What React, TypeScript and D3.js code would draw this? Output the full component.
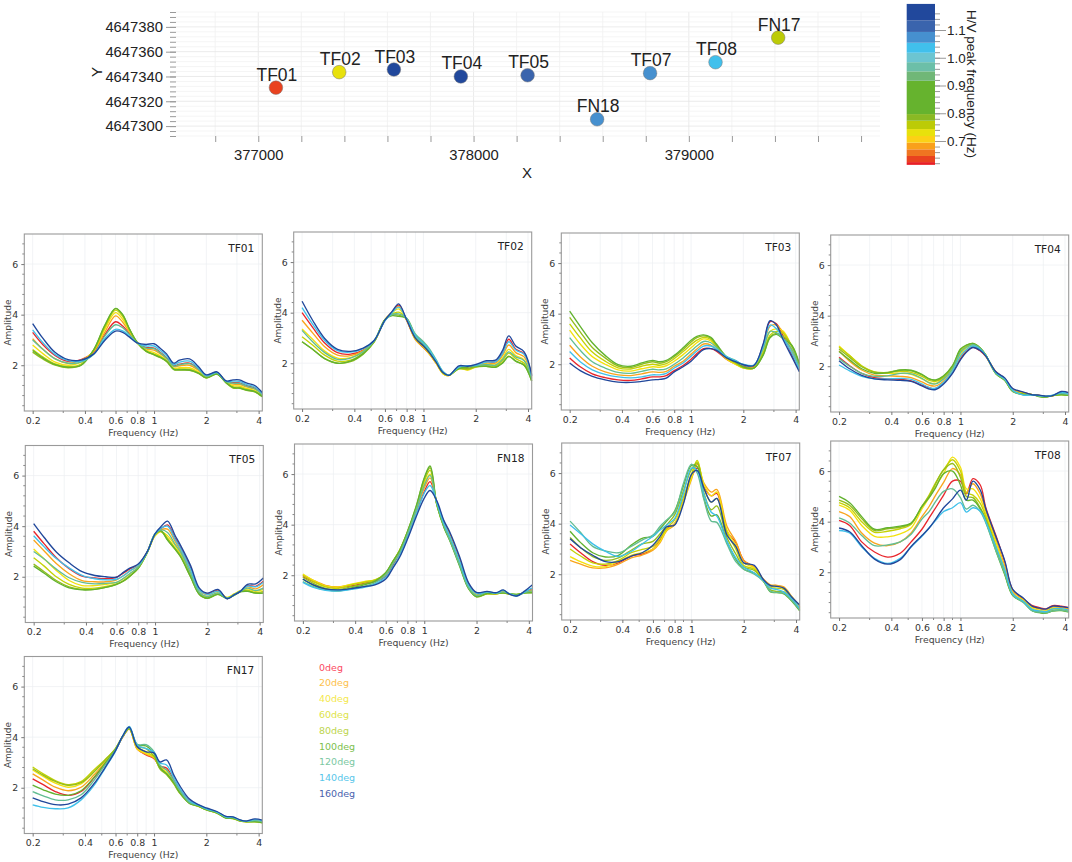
import * as d3 from "d3";
import { useEffect, useRef } from "react";

const FONT = "'DejaVu Sans', sans-serif";
const MAP_FONT = "'Liberation Sans', Arial, sans-serif";

// frequency samples shared by every H/V curve (Hz)
const freqs = [0.2, 0.23, 0.27, 0.32, 0.38, 0.45, 0.52, 0.6, 0.66, 0.72, 0.8, 0.9, 1, 1.08, 1.18, 1.3, 1.4, 1.6, 1.8, 2, 2.3, 2.6, 2.85, 3.1, 3.4, 3.8, 4.2];

const azimuths = ["0deg", "20deg", "40deg", "60deg", "80deg", "100deg", "120deg", "140deg", "160deg"];
const lineColors = ["#e8262c", "#f9a51c", "#f3e10e", "#c4d205", "#94bd1c", "#62b22f", "#63bd92", "#3fc0ea", "#20479b"];
const legendColors = ["#fb4a62", "#fdc14c", "#f4e84c", "#dde34a", "#bdd54e", "#7dc04e", "#7cc8a2", "#58c6ea", "#4a62ad"];

// one row per azimuth, same order as azimuths
const tf01 = [
  [3.3, 2.8, 2.38, 2.15, 2.22, 2.52, 3.2, 3.72, 3.55, 3.25, 2.88, 2.7, 2.68, 2.52, 2.3, 1.98, 2.04, 2.08, 1.86, 1.58, 1.72, 1.36, 1.31, 1.3, 1.19, 1.1, 0.85],
  [3.05, 2.62, 2.25, 2.08, 2.2, 2.55, 3.3, 3.95, 3.7, 3.32, 2.88, 2.64, 2.6, 2.46, 2.26, 1.94, 1.98, 2.0, 1.8, 1.55, 1.7, 1.35, 1.25, 1.24, 1.14, 1.05, 0.82],
  [2.8, 2.45, 2.12, 2.0, 2.12, 2.58, 3.42, 4.08, 3.82, 3.38, 2.88, 2.6, 2.5, 2.38, 2.2, 1.88, 1.9, 1.9, 1.74, 1.52, 1.68, 1.33, 1.19, 1.18, 1.08, 1.0, 0.79],
  [2.62, 2.32, 2.05, 1.94, 2.05, 2.6, 3.5, 4.18, 3.92, 3.42, 2.9, 2.56, 2.44, 2.34, 2.17, 1.85, 1.85, 1.84, 1.7, 1.5, 1.66, 1.32, 1.14, 1.13, 1.04, 0.97, 0.77],
  [2.52, 2.24, 2.0, 1.9, 2.0, 2.62, 3.55, 4.24, 3.98, 3.44, 2.9, 2.55, 2.41, 2.31, 2.15, 1.83, 1.81, 1.8, 1.68, 1.5, 1.65, 1.3, 1.1, 1.09, 1.01, 0.95, 0.75],
  [2.58, 2.28, 2.02, 1.92, 2.0, 2.62, 3.58, 4.25, 4.0, 3.45, 2.9, 2.56, 2.42, 2.32, 2.16, 1.84, 1.82, 1.81, 1.69, 1.5, 1.65, 1.31, 1.12, 1.1, 1.02, 0.96, 0.76],
  [3.0, 2.62, 2.25, 2.08, 2.12, 2.44, 3.15, 3.6, 3.48, 3.22, 2.88, 2.68, 2.66, 2.5, 2.28, 1.96, 2.02, 2.06, 1.84, 1.56, 1.7, 1.35, 1.29, 1.28, 1.17, 1.07, 0.83],
  [3.4, 2.88, 2.42, 2.18, 2.16, 2.44, 3.05, 3.42, 3.36, 3.16, 2.88, 2.76, 2.76, 2.6, 2.38, 2.03, 2.12, 2.16, 1.9, 1.6, 1.72, 1.37, 1.37, 1.36, 1.24, 1.14, 0.88],
  [3.65, 3.05, 2.5, 2.22, 2.2, 2.45, 2.98, 3.35, 3.3, 3.12, 2.88, 2.82, 2.85, 2.68, 2.45, 2.08, 2.2, 2.25, 1.95, 1.62, 1.74, 1.38, 1.42, 1.42, 1.3, 1.2, 0.92],
];

const tf02 = [
  [4.0, 3.42, 2.8, 2.42, 2.36, 2.52, 2.88, 3.7, 4.02, 4.3, 3.7, 2.95, 2.62, 2.38, 2.02, 1.6, 1.52, 1.84, 1.78, 1.9, 2.05, 2.05, 2.4, 2.95, 2.55, 2.38, 1.5],
  [3.7, 3.2, 2.65, 2.32, 2.3, 2.5, 2.88, 3.72, 4.02, 4.25, 3.7, 2.92, 2.62, 2.36, 2.0, 1.58, 1.51, 1.82, 1.75, 1.88, 2.0, 2.0, 2.3, 2.72, 2.42, 2.25, 1.45],
  [3.35, 2.95, 2.48, 2.2, 2.22, 2.46, 2.86, 3.72, 4.0, 4.15, 3.72, 2.95, 2.65, 2.38, 2.02, 1.58, 1.51, 1.8, 1.73, 1.86, 1.96, 1.94, 2.2, 2.55, 2.3, 2.13, 1.4],
  [3.05, 2.72, 2.32, 2.08, 2.12, 2.4, 2.84, 3.72, 3.95, 4.02, 3.74, 3.0, 2.7, 2.43, 2.05, 1.6, 1.52, 1.78, 1.75, 1.85, 1.92, 1.88, 2.1, 2.4, 2.18, 2.0, 1.35],
  [2.85, 2.55, 2.18, 2.0, 2.06, 2.36, 2.84, 3.72, 3.9, 3.9, 3.76, 3.05, 2.75, 2.47, 2.08, 1.62, 1.53, 1.78, 1.78, 1.86, 1.88, 1.84, 2.02, 2.28, 2.08, 1.92, 1.3],
  [2.85, 2.55, 2.18, 2.0, 2.08, 2.38, 2.86, 3.72, 3.88, 3.85, 3.78, 3.1, 2.8, 2.5, 2.1, 1.63, 1.53, 1.8, 1.84, 1.88, 1.88, 1.84, 2.0, 2.26, 2.08, 1.92, 1.3],
  [3.3, 2.85, 2.42, 2.15, 2.2, 2.46, 2.88, 3.7, 3.92, 3.95, 3.78, 3.15, 2.85, 2.58, 2.15, 1.66, 1.53, 1.84, 1.9, 1.9, 1.95, 1.92, 2.15, 2.45, 2.25, 2.1, 1.4],
  [4.2, 3.55, 2.9, 2.5, 2.44, 2.58, 2.9, 3.68, 4.0, 4.22, 3.75, 3.08, 2.78, 2.52, 2.12, 1.66, 1.53, 1.86, 1.9, 1.92, 2.05, 2.06, 2.38, 2.85, 2.52, 2.35, 1.5],
  [4.45, 3.7, 2.98, 2.55, 2.47, 2.6, 2.9, 3.7, 4.05, 4.35, 3.72, 2.98, 2.68, 2.42, 2.05, 1.62, 1.52, 1.9, 1.88, 1.95, 2.1, 2.12, 2.5, 3.08, 2.68, 2.45, 1.55],
];

const tf03 = [
  [2.25, 1.9, 1.62, 1.47, 1.38, 1.36, 1.42, 1.5, 1.5, 1.55, 1.75, 1.95, 2.2, 2.42, 2.62, 2.62, 2.52, 2.2, 2.02, 1.92, 1.92, 2.75, 3.68, 3.6, 3.1, 2.38, 1.75],
  [2.75, 2.3, 1.92, 1.7, 1.58, 1.55, 1.62, 1.7, 1.68, 1.72, 1.92, 2.12, 2.4, 2.6, 2.8, 2.76, 2.58, 2.2, 2.0, 1.88, 1.88, 2.68, 3.5, 3.55, 3.25, 2.52, 1.82],
  [3.35, 2.8, 2.3, 2.0, 1.78, 1.73, 1.82, 1.9, 1.88, 1.94, 2.12, 2.38, 2.65, 2.85, 3.0, 2.92, 2.68, 2.22, 2.0, 1.85, 1.85, 2.55, 3.3, 3.4, 3.3, 2.68, 1.9],
  [3.6, 3.05, 2.48, 2.12, 1.86, 1.81, 1.92, 2.0, 1.96, 2.02, 2.22, 2.5, 2.78, 2.95, 3.06, 2.98, 2.72, 2.25, 2.04, 1.86, 1.84, 2.45, 3.15, 3.3, 3.22, 2.72, 1.95],
  [3.85, 3.28, 2.66, 2.25, 1.93, 1.87, 2.0, 2.1, 2.04, 2.1, 2.3, 2.58, 2.88, 3.05, 3.12, 3.03, 2.76, 2.28, 2.07, 1.88, 1.85, 2.38, 3.08, 3.22, 3.1, 2.75, 2.0],
  [4.1, 3.5, 2.85, 2.35, 1.98, 1.92, 2.05, 2.15, 2.1, 2.15, 2.35, 2.65, 2.95, 3.1, 3.16, 3.06, 2.8, 2.3, 2.1, 1.9, 1.85, 2.35, 3.05, 3.18, 3.0, 2.75, 2.02],
  [3.05, 2.55, 2.1, 1.85, 1.68, 1.64, 1.72, 1.8, 1.78, 1.82, 2.0, 2.25, 2.52, 2.72, 2.9, 2.85, 2.66, 2.3, 2.15, 1.97, 1.95, 2.6, 3.3, 3.25, 3.0, 2.6, 1.85],
  [2.5, 2.1, 1.78, 1.6, 1.5, 1.46, 1.5, 1.58, 1.58, 1.64, 1.85, 2.05, 2.32, 2.52, 2.72, 2.72, 2.6, 2.3, 2.14, 2.0, 1.97, 2.72, 3.55, 3.4, 3.0, 2.45, 1.78],
  [2.05, 1.75, 1.52, 1.38, 1.29, 1.28, 1.32, 1.38, 1.4, 1.45, 1.7, 1.9, 2.12, 2.35, 2.58, 2.62, 2.55, 2.25, 2.1, 1.98, 1.95, 2.8, 3.72, 3.55, 2.95, 2.3, 1.7],
];

const tf04 = [
  [2.35, 2.02, 1.72, 1.55, 1.5, 1.48, 1.42, 1.25, 1.15, 1.12, 1.35, 1.75, 2.3, 2.58, 2.75, 2.6, 2.38, 1.78, 1.52, 1.1, 0.97, 0.88, 0.85, 0.81, 0.83, 0.98, 0.95],
  [2.6, 2.2, 1.85, 1.65, 1.62, 1.6, 1.55, 1.38, 1.25, 1.22, 1.42, 1.82, 2.38, 2.65, 2.8, 2.64, 2.4, 1.77, 1.5, 1.07, 0.95, 0.87, 0.85, 0.81, 0.84, 0.94, 0.9],
  [2.8, 2.42, 2.0, 1.76, 1.72, 1.72, 1.68, 1.5, 1.36, 1.32, 1.52, 1.9, 2.48, 2.72, 2.85, 2.68, 2.42, 1.75, 1.48, 1.04, 0.93, 0.87, 0.84, 0.8, 0.84, 0.9, 0.87],
  [2.75, 2.42, 2.02, 1.78, 1.75, 1.8, 1.76, 1.6, 1.44, 1.4, 1.56, 1.96, 2.58, 2.78, 2.88, 2.7, 2.43, 1.72, 1.45, 1.02, 0.92, 0.88, 0.82, 0.79, 0.84, 0.88, 0.86],
  [2.68, 2.35, 1.98, 1.77, 1.76, 1.84, 1.82, 1.66, 1.5, 1.44, 1.6, 2.0, 2.65, 2.82, 2.9, 2.72, 2.44, 1.7, 1.44, 1.0, 0.9, 0.88, 0.8, 0.78, 0.84, 0.87, 0.85],
  [2.58, 2.25, 1.9, 1.72, 1.74, 1.85, 1.84, 1.68, 1.5, 1.46, 1.62, 2.02, 2.68, 2.84, 2.9, 2.72, 2.44, 1.7, 1.44, 1.0, 0.88, 0.88, 0.8, 0.78, 0.85, 0.88, 0.85],
  [2.3, 2.0, 1.72, 1.6, 1.62, 1.72, 1.7, 1.52, 1.34, 1.3, 1.5, 1.9, 2.55, 2.75, 2.85, 2.7, 2.43, 1.72, 1.46, 1.02, 0.87, 0.87, 0.82, 0.8, 0.85, 0.92, 0.88],
  [2.05, 1.82, 1.6, 1.5, 1.5, 1.52, 1.48, 1.3, 1.16, 1.13, 1.36, 1.8, 2.4, 2.65, 2.8, 2.66, 2.42, 1.75, 1.5, 1.06, 0.86, 0.86, 0.84, 0.82, 0.86, 0.96, 0.92],
  [2.22, 1.9, 1.64, 1.5, 1.46, 1.44, 1.4, 1.22, 1.1, 1.08, 1.3, 1.72, 2.25, 2.55, 2.74, 2.62, 2.4, 1.78, 1.54, 1.12, 0.98, 0.87, 0.86, 0.82, 0.84, 1.0, 0.96],
];

const tf05 = [
  [3.8, 3.3, 2.75, 2.32, 2.02, 1.95, 1.92, 1.98, 2.15, 2.32, 2.47, 2.98, 3.68, 3.9, 4.05, 3.55, 3.15, 2.35, 1.5, 1.32, 1.46, 1.14, 1.28, 1.42, 1.65, 1.62, 1.82],
  [3.45, 3.02, 2.52, 2.12, 1.85, 1.8, 1.8, 1.88, 2.05, 2.24, 2.42, 2.96, 3.65, 3.85, 3.88, 3.42, 3.05, 2.25, 1.45, 1.28, 1.42, 1.16, 1.3, 1.44, 1.6, 1.52, 1.68],
  [3.1, 2.7, 2.25, 1.85, 1.65, 1.65, 1.7, 1.78, 1.92, 2.12, 2.36, 2.94, 3.62, 3.78, 3.62, 3.25, 2.92, 2.1, 1.37, 1.2, 1.36, 1.18, 1.32, 1.45, 1.52, 1.42, 1.5],
  [2.75, 2.42, 2.0, 1.7, 1.55, 1.55, 1.62, 1.72, 1.85, 2.05, 2.33, 2.94, 3.65, 3.8, 3.52, 3.15, 2.85, 2.05, 1.33, 1.17, 1.32, 1.16, 1.3, 1.43, 1.47, 1.37, 1.42],
  [2.5, 2.2, 1.85, 1.6, 1.5, 1.5, 1.58, 1.7, 1.83, 2.03, 2.33, 2.95, 3.68, 3.8, 3.46, 3.1, 2.8, 2.0, 1.3, 1.15, 1.3, 1.15, 1.28, 1.42, 1.44, 1.35, 1.36],
  [2.42, 2.14, 1.8, 1.56, 1.48, 1.5, 1.58, 1.7, 1.84, 2.04, 2.34, 2.96, 3.7, 3.82, 3.45, 3.1, 2.8, 2.0, 1.3, 1.15, 1.3, 1.14, 1.26, 1.4, 1.42, 1.35, 1.35],
  [3.0, 2.7, 2.3, 1.96, 1.78, 1.72, 1.74, 1.78, 1.95, 2.14, 2.38, 2.96, 3.68, 3.85, 3.75, 3.3, 2.98, 2.15, 1.38, 1.22, 1.36, 1.15, 1.28, 1.42, 1.55, 1.45, 1.55],
  [3.62, 3.18, 2.72, 2.35, 2.05, 1.92, 1.88, 1.9, 2.05, 2.24, 2.46, 2.97, 3.7, 3.92, 4.0, 3.5, 3.12, 2.3, 1.48, 1.3, 1.43, 1.14, 1.28, 1.43, 1.63, 1.6, 1.78],
  [4.1, 3.55, 2.98, 2.55, 2.2, 2.05, 2.0, 1.98, 2.18, 2.35, 2.5, 2.98, 3.7, 3.98, 4.2, 3.65, 3.25, 2.45, 1.55, 1.35, 1.5, 1.13, 1.28, 1.42, 1.7, 1.72, 1.95],
];

const fn18 = [
  [1.95, 1.75, 1.58, 1.52, 1.58, 1.68, 1.75, 1.95, 2.4, 2.85, 3.55, 4.45, 5.3, 5.7, 4.9, 4.1, 3.65, 2.62, 1.65, 1.28, 1.34, 1.27, 1.38, 1.25, 1.2, 1.33, 1.48],
  [2.02, 1.8, 1.6, 1.54, 1.63, 1.73, 1.8, 2.02, 2.48, 2.92, 3.62, 4.55, 5.45, 5.85, 4.85, 4.05, 3.6, 2.55, 1.6, 1.25, 1.3, 1.26, 1.36, 1.25, 1.21, 1.32, 1.42],
  [2.05, 1.8, 1.58, 1.53, 1.65, 1.75, 1.82, 2.05, 2.52, 2.96, 3.67, 4.62, 5.6, 6.0, 4.82, 3.98, 3.52, 2.5, 1.56, 1.2, 1.27, 1.26, 1.32, 1.24, 1.22, 1.31, 1.36],
  [2.0, 1.75, 1.54, 1.48, 1.62, 1.72, 1.82, 2.08, 2.55, 2.98, 3.7, 4.68, 5.72, 6.15, 4.8, 3.92, 3.45, 2.42, 1.5, 1.17, 1.26, 1.27, 1.3, 1.25, 1.23, 1.3, 1.33],
  [1.92, 1.68, 1.48, 1.42, 1.55, 1.66, 1.78, 2.1, 2.55, 2.98, 3.72, 4.72, 5.82, 6.25, 4.8, 3.9, 3.4, 2.38, 1.47, 1.15, 1.26, 1.27, 1.29, 1.26, 1.24, 1.3, 1.31],
  [1.84, 1.6, 1.44, 1.38, 1.5, 1.62, 1.76, 2.1, 2.55, 2.96, 3.72, 4.75, 5.85, 6.32, 4.82, 3.88, 3.38, 2.35, 1.47, 1.15, 1.28, 1.28, 1.3, 1.27, 1.24, 1.3, 1.3],
  [1.75, 1.55, 1.42, 1.38, 1.46, 1.56, 1.7, 2.02, 2.45, 2.86, 3.62, 4.6, 5.55, 5.95, 4.85, 3.95, 3.42, 2.4, 1.5, 1.2, 1.33, 1.29, 1.34, 1.27, 1.2, 1.32, 1.38],
  [1.72, 1.52, 1.4, 1.38, 1.44, 1.52, 1.65, 1.92, 2.32, 2.75, 3.48, 4.42, 5.25, 5.55, 4.9, 4.05, 3.55, 2.55, 1.6, 1.28, 1.34, 1.3, 1.4, 1.26, 1.18, 1.35, 1.5],
  [1.85, 1.62, 1.46, 1.42, 1.47, 1.55, 1.62, 1.85, 2.28, 2.7, 3.42, 4.32, 5.05, 5.35, 4.95, 4.15, 3.72, 2.72, 1.7, 1.32, 1.36, 1.31, 1.42, 1.25, 1.18, 1.38, 1.62],
];

const tf07 = [
  [3.2, 2.85, 2.5, 2.35, 2.45, 2.72, 2.8, 3.0, 3.35, 3.78, 4.0, 4.9, 5.85, 6.2, 5.45, 5.1, 5.2, 3.7, 3.25, 2.55, 2.28, 1.78, 1.55, 1.55, 1.45, 1.0, 0.72],
  [2.55, 2.4, 2.25, 2.25, 2.4, 2.65, 2.76, 2.95, 3.25, 3.72, 3.95, 4.85, 5.75, 6.35, 5.6, 5.25, 5.35, 3.9, 3.3, 2.55, 2.28, 1.8, 1.58, 1.56, 1.5, 1.1, 0.72],
  [2.7, 2.5, 2.32, 2.3, 2.5, 2.75, 2.85, 3.0, 3.3, 3.75, 4.0, 4.9, 5.8, 6.45, 5.55, 5.1, 5.25, 3.75, 3.15, 2.45, 2.25, 1.75, 1.55, 1.52, 1.45, 1.08, 0.68],
  [3.0, 2.72, 2.45, 2.4, 2.55, 2.85, 2.98, 3.1, 3.42, 3.82, 4.15, 5.05, 5.95, 6.5, 5.4, 4.85, 5.0, 3.65, 3.0, 2.35, 2.2, 1.74, 1.48, 1.45, 1.4, 1.02, 0.62],
  [3.45, 3.05, 2.7, 2.55, 2.65, 2.95, 3.2, 3.3, 3.6, 3.95, 4.35, 5.3, 6.15, 6.4, 5.2, 4.55, 4.7, 3.45, 2.8, 2.28, 2.15, 1.72, 1.38, 1.32, 1.3, 0.95, 0.58],
  [3.7, 3.25, 2.85, 2.68, 2.75, 3.15, 3.42, 3.5, 3.8, 4.1, 4.5, 5.5, 6.3, 6.25, 5.0, 4.3, 4.35, 3.3, 2.6, 2.2, 2.05, 1.72, 1.3, 1.27, 1.22, 0.92, 0.55],
  [4.1, 3.65, 3.1, 2.92, 2.85, 3.1, 3.35, 3.55, 3.9, 4.15, 4.45, 5.6, 6.35, 6.0, 4.95, 4.1, 4.05, 3.2, 2.5, 2.2, 2.0, 1.72, 1.32, 1.28, 1.25, 0.95, 0.58],
  [3.95, 3.6, 3.2, 2.9, 2.7, 2.9, 3.2, 3.5, 3.75, 3.95, 4.2, 5.2, 6.2, 6.1, 5.15, 4.45, 4.3, 3.3, 2.65, 2.28, 2.05, 1.75, 1.45, 1.4, 1.3, 1.02, 0.65],
  [3.4, 3.05, 2.75, 2.5, 2.5, 2.72, 2.85, 3.15, 3.5, 3.88, 3.95, 4.8, 5.95, 6.1, 5.4, 4.85, 5.0, 3.55, 3.1, 2.45, 2.35, 1.78, 1.55, 1.52, 1.45, 1.08, 0.78],
];

const tf08 = [
  [4.05, 3.85, 3.2, 2.8, 2.6, 2.75, 3.2, 3.7, 4.15, 4.55, 5.05, 5.6, 5.6, 5.1, 5.7, 5.45, 4.55, 3.45, 2.4, 1.3, 0.95, 0.68, 0.6, 0.55, 0.68, 0.66, 0.6],
  [4.4, 4.2, 3.55, 3.15, 3.05, 3.2, 3.55, 4.2, 4.6, 5.05, 5.55, 6.1, 5.85, 5.15, 5.5, 5.1, 4.42, 3.3, 2.25, 1.25, 0.92, 0.62, 0.55, 0.5, 0.62, 0.6, 0.55],
  [4.65, 4.45, 3.85, 3.42, 3.4, 3.52, 3.75, 4.5, 4.95, 5.4, 5.9, 6.55, 6.15, 5.3, 5.3, 4.9, 4.3, 3.2, 2.12, 1.18, 0.88, 0.58, 0.5, 0.46, 0.58, 0.56, 0.5],
  [4.75, 4.55, 4.0, 3.58, 3.62, 3.72, 3.9, 4.6, 5.05, 5.55, 6.05, 6.45, 6.0, 5.15, 5.05, 4.72, 4.2, 3.05, 2.0, 1.12, 0.85, 0.52, 0.45, 0.42, 0.54, 0.52, 0.46],
  [4.85, 4.65, 4.12, 3.65, 3.72, 3.78, 3.93, 4.6, 5.0, 5.5, 6.05, 6.3, 5.75, 5.0, 4.95, 4.55, 4.1, 2.95, 1.93, 1.1, 0.83, 0.48, 0.42, 0.39, 0.48, 0.5, 0.44],
  [5.0, 4.75, 4.2, 3.7, 3.76, 3.82, 3.95, 4.6, 4.95, 5.35, 5.9, 6.0, 5.45, 4.85, 4.85, 4.5, 4.0, 2.85, 1.9, 1.08, 0.82, 0.47, 0.4, 0.38, 0.46, 0.48, 0.42],
  [4.15, 3.95, 3.45, 3.05, 3.08, 3.2, 3.5, 4.1, 4.4, 4.8, 5.2, 5.3, 4.95, 4.5, 4.65, 4.4, 3.95, 2.85, 1.95, 1.1, 0.8, 0.47, 0.42, 0.4, 0.47, 0.5, 0.44],
  [3.65, 3.55, 3.0, 2.55, 2.35, 2.55, 3.0, 3.42, 3.75, 4.05, 4.4, 4.55, 4.75, 4.38, 4.55, 4.42, 4.0, 3.0, 2.1, 1.15, 0.85, 0.52, 0.47, 0.44, 0.55, 0.56, 0.5],
  [3.75, 3.6, 3.05, 2.52, 2.32, 2.5, 3.02, 3.45, 3.75, 4.1, 4.55, 4.9, 5.25, 4.85, 5.6, 5.25, 4.5, 3.4, 2.45, 1.32, 0.98, 0.65, 0.58, 0.54, 0.66, 0.64, 0.6],
];

const fn17 = [
  [2.35, 2.12, 1.85, 1.7, 1.85, 2.38, 2.95, 3.5, 4.0, 4.32, 3.55, 3.3, 3.15, 2.85, 2.78, 2.3, 1.95, 1.5, 1.28, 1.15, 1.02, 0.85, 0.82, 0.72, 0.68, 0.72, 0.66],
  [2.55, 2.3, 2.02, 1.88, 2.02, 2.5, 3.0, 3.52, 4.02, 4.33, 3.52, 3.32, 3.18, 2.82, 2.7, 2.25, 1.9, 1.45, 1.27, 1.14, 1.02, 0.83, 0.8, 0.71, 0.67, 0.7, 0.65],
  [2.7, 2.45, 2.18, 2.02, 2.15, 2.62, 3.05, 3.54, 4.03, 4.33, 3.55, 3.36, 3.2, 2.8, 2.62, 2.2, 1.85, 1.42, 1.26, 1.13, 1.01, 0.82, 0.79, 0.7, 0.66, 0.68, 0.63],
  [2.82, 2.55, 2.28, 2.12, 2.24, 2.7, 3.1, 3.55, 4.03, 4.33, 3.6, 3.42, 3.22, 2.78, 2.55, 2.17, 1.82, 1.4, 1.26, 1.13, 1.0, 0.81, 0.78, 0.69, 0.65, 0.66, 0.62],
  [2.75, 2.5, 2.25, 2.1, 2.2, 2.62, 3.08, 3.55, 4.03, 4.34, 3.65, 3.55, 3.25, 2.75, 2.52, 2.15, 1.8, 1.38, 1.27, 1.12, 1.0, 0.8, 0.78, 0.69, 0.65, 0.65, 0.61],
  [2.1, 1.92, 1.75, 1.7, 1.88, 2.4, 2.95, 3.52, 4.03, 4.36, 3.7, 3.65, 3.35, 2.8, 2.55, 2.2, 1.83, 1.38, 1.28, 1.13, 1.01, 0.8, 0.8, 0.7, 0.66, 0.66, 0.62],
  [1.85, 1.68, 1.52, 1.52, 1.72, 2.28, 2.88, 3.5, 4.03, 4.38, 3.72, 3.7, 3.42, 2.9, 2.7, 2.28, 1.92, 1.42, 1.3, 1.15, 1.03, 0.83, 0.82, 0.72, 0.67, 0.7, 0.66],
  [1.32, 1.22, 1.17, 1.2, 1.52, 2.08, 2.75, 3.45, 4.05, 4.42, 3.68, 3.55, 3.4, 2.98, 2.9, 2.4, 2.0, 1.48, 1.32, 1.17, 1.05, 0.85, 0.84, 0.73, 0.68, 0.74, 0.7],
  [1.6, 1.45, 1.33, 1.35, 1.6, 2.15, 2.78, 3.47, 4.05, 4.4, 3.62, 3.42, 3.38, 3.02, 3.1, 2.5, 2.1, 1.55, 1.33, 1.2, 1.06, 0.87, 0.85, 0.74, 0.68, 0.77, 0.72],
];

// station map
const stationNames = ["TF01", "TF02", "TF03", "TF04", "TF05", "FN18", "TF07", "TF08", "FN17"];
const stationX = [377082, 377376, 377630, 377941, 378251, 378574, 378820, 379124, 379415];
const stationY = [4647331, 4647343.5, 4647345.6, 4647340, 4647341, 4647305.5, 4647342.7, 4647351.5, 4647371.3];
const peakFreq = [0.635, 0.73, 1.16, 1.16, 1.11, 1.07, 1.07, 1.03, 0.76];

// colour bar bands, lower edges from the bottom up
const bandEdges = [0.614, 0.624, 0.646, 0.67, 0.694, 0.718, 0.743, 0.773, 0.797, 0.917, 0.951, 0.984, 1.018, 1.054, 1.093, 1.134, 1.194];
const bandColors = ["#e81f25", "#e9421f", "#ef7521", "#f9a01b", "#fcd116", "#e8e10c", "#bccb07", "#8ab924", "#66b32e", "#70b777", "#6cbfa8", "#6cc5d1", "#41c0ec", "#4690cf", "#3a64ad", "#21489c"];

// frame position of each panel on the page
const panels = [
  { name: "TF01", rows: tf01, left: 24.3, top: 234 },
  { name: "TF02", rows: tf02, left: 293.7, top: 232 },
  { name: "TF03", rows: tf03, left: 561.3, top: 233 },
  { name: "TF04", rows: tf04, left: 830.7, top: 235 },
  { name: "TF05", rows: tf05, left: 25.3, top: 445.5 },
  { name: "FN18", rows: fn18, left: 294.5, top: 444 },
  { name: "TF07", rows: tf07, left: 561.7, top: 443 },
  { name: "TF08", rows: tf08, left: 830.7, top: 441 },
  { name: "FN17", rows: fn17, left: 24.3, top: 656.5 },
];

const panelWidth = 238;
const panelHeight = 177;
const xDomain: [number, number] = [0.179, 4.2];
const yDomain: [number, number] = [0.19, 7.19];
const xMajor = [0.2, 0.4, 0.6, 0.8, 1, 2, 4];
const xMinor = [0.3, 0.5, 0.7, 0.9, 3];
const yMajor = [2, 4, 6];
const yMinor = d3.range(2, 36).map((d) => d * 0.2).filter((d, i) => i % 2 === 0 && !yMajor.includes(Math.round(d * 10) / 10));

function HvPanel({ name, rows, left, top }: { name: string; rows: number[][]; left: number; top: number }) {
  const axisRef = useRef<SVGGElement>(null);
  const x = d3.scaleLog().domain(xDomain).range([0, panelWidth]);
  const y = d3.scaleLinear().domain(yDomain).range([panelHeight, 0]);
  const line = d3
    .line<number>()
    .x((_, i) => x(freqs[i]))
    .y((d) => y(d))
    .curve(d3.curveCatmullRom.alpha(0.5));

  useEffect(() => {
    const g = d3.select(axisRef.current);
    g.selectAll("*").remove();

    const bottom = g.append("g").attr("transform", `translate(0, ${panelHeight})`);
    bottom
      .call(d3.axisBottom(x).tickValues(xMajor).tickFormat((d) => String(d)).tickSize(3).tickPadding(3))
      .call((s) => s.select(".domain").remove());
    bottom
      .selectAll(".minor")
      .data(xMinor)
      .join("line")
      .attr("x1", (d) => x(d))
      .attr("x2", (d) => x(d))
      .attr("y2", 2)
      .attr("stroke", "#888");

    const leftAxis = g.append("g");
    leftAxis
      .call(d3.axisLeft(y).tickValues(yMajor).tickFormat((d) => String(d)).tickSize(3).tickPadding(3))
      .call((s) => s.select(".domain").remove());
    leftAxis
      .selectAll(".minor")
      .data(yMinor)
      .join("line")
      .attr("y1", (d) => y(d))
      .attr("y2", (d) => y(d))
      .attr("x2", -2)
      .attr("stroke", "#888");

    g.selectAll(".tick line").attr("stroke", "#777");
    g.selectAll(".tick text").attr("fill", "#333").style("font-size", "9.4px").style("font-family", FONT);
  }, []);

  return (
    <g transform={`translate(${left}, ${top})`}>
      <rect width={panelWidth} height={panelHeight} fill="#fff" />
      {[...xMajor, ...xMinor].map((d) => (
        <line key={d} x1={x(d)} x2={x(d)} y2={panelHeight} stroke="#eceff2" strokeWidth={0.7} />
      ))}
      {yMajor.map((d) => (
        <line key={d} y1={y(d)} y2={y(d)} x2={panelWidth} stroke="#eceff2" strokeWidth={0.7} />
      ))}
      <g>
        {rows.map((row, i) => (
          <path key={azimuths[i]} d={line(row) || ""} fill="none" stroke={lineColors[i]} strokeWidth={1.35} strokeLinejoin="round" />
        ))}
      </g>
      <rect width={panelWidth} height={panelHeight} fill="none" stroke="#9a9a9a" strokeWidth={1.1} />
      <g ref={axisRef} />
      <text x={panelWidth - 8} y={17.7} textAnchor="end" fontSize={10.6} fontFamily={FONT} fill="#222">
        {name}
      </text>
      <text x={panelWidth / 2} y={panelHeight + 24.7} textAnchor="middle" fontSize={9.3} fontFamily={FONT} fill="#444">
        Frequency (Hz)
      </text>
      <text transform={`translate(-13, ${panelHeight / 2}) rotate(-90)`} textAnchor="middle" fontSize={9} fontFamily={FONT} fill="#444">
        Amplitude
      </text>
    </g>
  );
}

const mapX = d3.scaleLinear().domain([376590, 379888]).range([170, 880]);
const mapY = d3.scaleLinear().domain([4647292, 4647392]).range([136, 12]);
const xTickValues = d3.range(376800, 379801, 200);
const yTickValues = d3.range(4647292, 4647393, 4);
const colorBarY = d3.scaleLinear().domain([0.7, 1.1]).range([141, 30]);
const stationColor = d3.scaleThreshold<number, string>().domain(bandEdges.slice(1, -1)).range(bandColors);

function StationMap() {
  const axisRef = useRef<SVGGElement>(null);

  useEffect(() => {
    const g = d3.select(axisRef.current);
    g.selectAll("*").remove();

    const xAxis = g.append("g").attr("transform", "translate(0, 136)");
    xAxis
      .call(d3.axisBottom(mapX).tickValues(xTickValues).tickSize(6).tickPadding(7).tickFormat((d) => (+d % 1000 === 0 ? String(d) : "")))
      .call((s) => s.select(".domain").remove());

    const yAxis = g.append("g").attr("transform", "translate(176, 0)");
    yAxis
      .call(d3.axisLeft(mapY).tickValues(yTickValues).tickSize(6).tickFormat(() => ""))
      .call((s) => s.select(".domain").remove());
    const yMain = g.append("g").attr("transform", "translate(176, 0)");
    yMain
      .call(d3.axisLeft(mapY).tickValues([4647300, 4647320, 4647340, 4647360, 4647380]).tickSize(10).tickPadding(3).tickFormat((d) => String(d)))
      .call((s) => s.select(".domain").remove());

    g.selectAll(".tick line").attr("stroke", "#999");
    g.selectAll(".tick text").attr("fill", "#222").style("font-size", "14.8px").style("font-family", MAP_FONT);

    const barAxis = g.append("g").attr("transform", "translate(935, 0)");
    barAxis
      .call(d3.axisRight(colorBarY).tickValues(d3.range(31, 59).map((d) => d / 50)).tickSize(5).tickFormat(() => ""))
      .call((s) => s.select(".domain").remove());
    const barMain = g.append("g").attr("transform", "translate(935, 0)");
    barMain
      .call(d3.axisRight(colorBarY).tickValues([0.7, 0.8, 0.9, 1.0, 1.1]).tickSize(11).tickPadding(1).tickFormat(d3.format(".1f")))
      .call((s) => s.select(".domain").remove());
    barAxis.selectAll(".tick line").attr("stroke", "#999");
    barMain.selectAll(".tick line").attr("stroke", "#999");
    barMain.selectAll(".tick text").attr("fill", "#222").style("font-size", "13.4px").style("font-family", MAP_FONT);
  }, []);

  return (
    <g>
      {xTickValues.map((d) => (
        <line key={d} x1={mapX(d)} x2={mapX(d)} y1={12} y2={136} stroke={d % 1000 === 0 ? "#e6e6e6" : "#f0f0f0"} strokeWidth={0.8} />
      ))}
      {yTickValues.map((d) => (
        <line key={d} x1={176} x2={880} y1={mapY(d)} y2={mapY(d)} stroke={(d - 4647300) % 20 === 0 ? "#e6e6e6" : "#f2f2f2"} strokeWidth={0.8} />
      ))}
      {stationNames.map((name, i) => (
        <circle key={name} cx={mapX(stationX[i])} cy={mapY(stationY[i])} r={6.8} fill={stationColor(peakFreq[i])} stroke="#777" strokeOpacity={0.7} strokeWidth={0.7} />
      ))}
      {stationNames.map((name, i) => (
        <text key={name} x={mapX(stationX[i]) + 1} y={mapY(stationY[i]) - 7} textAnchor="middle" fontSize={17.5} fontFamily={MAP_FONT} fill="#222">
          {name}
        </text>
      ))}
      <text x={527} y={178} textAnchor="middle" fontSize={15} fontFamily={MAP_FONT} fill="#222">
        X
      </text>
      <text transform="translate(102, 72) rotate(-90)" textAnchor="middle" fontSize={15} fontFamily={MAP_FONT} fill="#222">
        Y
      </text>
      {bandColors.map((c, i) => (
        <rect key={c} x={906.7} width={28.3} y={colorBarY(bandEdges[i + 1])} height={colorBarY(bandEdges[i]) - colorBarY(bandEdges[i + 1])} fill={c} />
      ))}
      <g ref={axisRef} />
      <text transform="translate(967, 84) rotate(90)" textAnchor="middle" fontSize={13.5} fontFamily={MAP_FONT} fill="#222">
        H/V peak frequency (Hz)
      </text>
    </g>
  );
}

const legendY = d3.scalePoint<string>().domain(azimuths).range([670.5, 797]);

export default function App() {
  return (
    <svg width={1072} height={862} style={{ position: "absolute", left: 0, top: 0, display: "block" }}>
      <rect width={1072} height={862} fill="#fff" />
      <StationMap />
      {panels.map((p) => (
        <HvPanel key={p.name} name={p.name} rows={p.rows} left={p.left} top={p.top} />
      ))}
      {azimuths.map((a, i) => (
        <text key={a} x={319} y={legendY(a)} fontSize={9.5} fontFamily={FONT} fill={legendColors[i]}>
          {a}
        </text>
      ))}
    </svg>
  );
}
